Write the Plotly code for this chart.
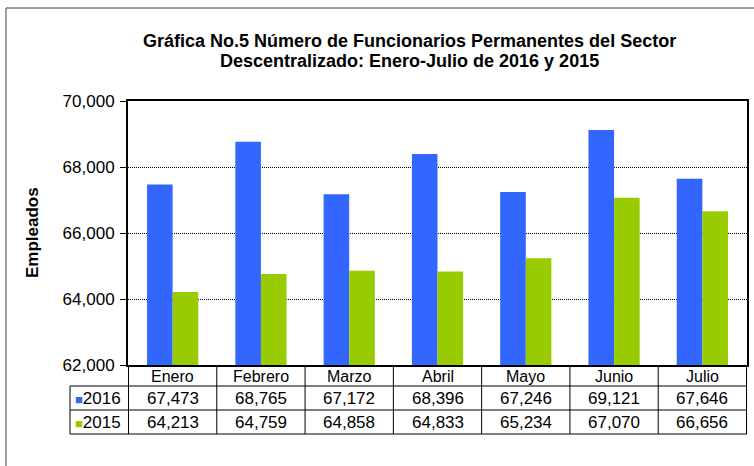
import plotly.graph_objects as go

meses = ['Enero', 'Febrero', 'Marzo', 'Abril', 'Mayo', 'Junio', 'Julio']
empleados_2016 = [67473, 68765, 67172, 68396, 67246, 69121, 67646]
empleados_2015 = [64213, 64759, 64858, 64833, 65234, 67070, 66656]
y_ticks = [62000, 64000, 66000, 68000, 70000]
titulo = ['Gráfica No.5 Número de Funcionarios Permanentes del Sector',
          'Descentralizado: Enero-Julio de 2016 y 2015']

W, H = 754, 466
L, R, T, B = 128, 747, 101, 365  # plot area in pixels

def px(x):
    return (x - L) / (R - L)

def py(y):
    return (B - y) / (B - T)

azul = '#3366FF'
verde = '#99CC00'
fuente = 'Liberation Sans, Arial, sans-serif'

fig = go.Figure()
fig.add_trace(go.Bar(x=meses, y=empleados_2016, name='2016',
                     marker=dict(color=azul, line=dict(width=0))))
fig.add_trace(go.Bar(x=meses, y=empleados_2015, name='2015',
                     marker=dict(color=verde, line=dict(width=0))))

fig.update_layout(
    width=W, height=H,
    margin=dict(l=L, r=W - R, t=T, b=H - B, autoexpand=False),
    plot_bgcolor='white', paper_bgcolor='white',
    showlegend=False,
    barmode='group', bargap=0.42, bargroupgap=0,
    font=dict(family=fuente, color='black'),
)

fig.update_yaxes(range=[y_ticks[0], y_ticks[-1]], tickvals=y_ticks, tickformat=',d',
                 ticks='outside', ticklen=6, tickcolor='black', tickwidth=1,
                 tickfont=dict(size=17), ticklabelstandoff=2,
                 showgrid=True, gridcolor='black', griddash='1px,1px', gridwidth=1,
                 showline=True, linecolor='black', linewidth=2, mirror=True,
                 zeroline=False)
fig.update_xaxes(showline=True, linecolor='black', linewidth=2, mirror=True,
                 ticks='', showticklabels=False, showgrid=False)

# titulo en dos lineas
for linea_txt, yy in zip(titulo, [41, 61]):
    fig.add_annotation(text=f'<b>{linea_txt}</b>', x=px(409), y=py(yy),
                       xref='paper', yref='paper', xanchor='center', yanchor='middle',
                       showarrow=False, font=dict(size=18))

# eje y titulo
fig.add_annotation(text='<b>Empleados</b>', textangle=-90, x=px(32), y=0.5,
                   xref='paper', yref='paper', xanchor='center', yanchor='middle',
                   showarrow=False, font=dict(size=17))

# tabla de datos bajo el grafico
linea = dict(color='black', width=1)
fila_y = [365, 386, 410, 434]
for k in range(len(meses) + 1):
    fig.add_shape(type='line', xref='x', yref='paper', x0=k - 0.5, x1=k - 0.5,
                  y0=py(fila_y[0]), y1=py(fila_y[-1]), line=linea)
fig.add_shape(type='line', xref='paper', yref='paper', x0=px(70), x1=px(70),
              y0=py(fila_y[1]), y1=py(fila_y[-1]), line=linea)
for yy in fila_y[1:]:
    fig.add_shape(type='line', xref='paper', yref='paper', x0=px(70), x1=1,
                  y0=py(yy), y1=py(yy), line=linea)

for mes in meses:
    fig.add_annotation(text=mes, x=mes, y=py(376), xref='x', yref='paper',
                       xanchor='center', yanchor='middle', showarrow=False,
                       font=dict(size=16))

series = [('2016', azul, empleados_2016), ('2015', verde, empleados_2015)]
for i, (nombre, color, valores) in enumerate(series):
    yc = py((fila_y[i + 1] + fila_y[i + 2]) / 2)
    fig.add_annotation(text=f"<span style='color:{color};font-size:13px'>■</span>{nombre}",
                       x=px(73), y=yc, xref='paper', yref='paper',
                       xanchor='left', yanchor='middle', showarrow=False,
                       font=dict(size=17))
    for mes, v in zip(meses, valores):
        fig.add_annotation(text=f'{v:,}', x=mes, y=yc, xref='x', yref='paper',
                           xanchor='center', yanchor='middle', showarrow=False,
                           font=dict(size=17))

# marco exterior
fig.add_shape(type='rect', xref='paper', yref='paper',
              x0=px(6), x1=px(W + 10), y0=py(8), y1=py(H + 10),
              line=dict(color='#404040', width=1))

fig.write_html('out.html', config={'displayModeBar': False},
               post_script="document.body.style.margin='0';")
